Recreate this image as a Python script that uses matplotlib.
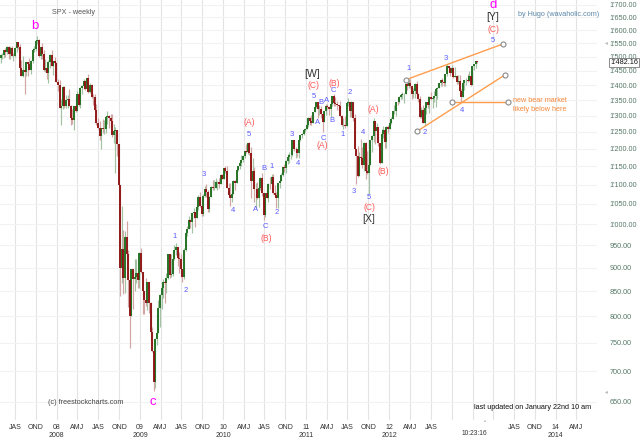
import numpy as np
import pandas as pd
import matplotlib
matplotlib.use("Agg")
import matplotlib.pyplot as plt
import matplotlib.dates as mdates
from matplotlib.ticker import FixedLocator, NullLocator

plt.rcParams['font.family'] = ['Liberation Sans', 'DejaVu Sans']

# ---------------- data: SPX weekly candles (week start Monday), Apr 2007 - Jan 2013 ----------------
last_week = "2013-01-21"
week_open = [
    1484,1494,1506,1506,1523,1516,1536,1508,1533,1503,1503,1530,1553,1534,1459,1433,1454,1446,1479,1474,1454,1484,1526,1527,1558,1562,1501,1535,1510,1454,1459,1441,1481,1505,1468,1484,1478,
    1412,1401,1325,1331,1395,1331,1350,1353,1331,1293,1288,1330,1315,1370,1333,1390,1398,1414,1388,1425,1376,1400,1361,1360,1318,1278,1263,1239,1261,1258,1260,1296,1298,1292,1283,1242,1252,1255,1213,1099,899,941,877,969,931,873,800,896,876,880,888,873,
    932,890,850,832,826,869,827,770,735,683,757,769,816,843,857,870,866,878,929,883,887,919,940,946,921,919,896,879,940,979,987,1010,1004,1026,1029,1016,1043,1068,1044,1025,1071,1088,1080,1036,1069,1093,1091,1091,1106,1106,1102,1126,
    1115,1145,1136,1092,1074,1066,1076,1109,1104,1139,1150,1160,1167,1178,1194,1192,1217,1187,1111,1136,1088,1089,1065,1092,1118,1077,1023,1078,1065,1103,1102,1122,1079,1072,1065,1105,1110,1126,1149,1146,1165,1176,1183,1183,1226,1199,1200,1189,1225,1240,1244,1257,
    1258,1272,1293,1283,1276,1311,1329,1343,1320,1321,1304,1279,1314,1332,1328,1320,1337,1364,1340,1338,1333,1331,1300,1271,1272,1268,1340,1344,1316,1345,1292,1199,1179,1124,1177,1174,1154,1216,1136,1131,1155,1225,1238,1285,1253,1264,1216,1159,1244,1255,1220,1265,
    1258,1278,1289,1315,1316,1345,1343,1361,1366,1370,1371,1404,1397,1408,1398,1370,1379,1403,1369,1353,1295,1318,1278,1326,1343,1335,1362,1355,1357,1363,1386,1391,1406,1418,1411,1407,1438,1466,1460,1441,1461,1429,1433,1412,1414,1380,1360,1409,1416,1418,1414,1430,1402,
    1466,1472,1486,
]
week_high = [
    1498,1510,1513,1523,1530,1540,1540,1538,1540,1515,1534,1556,1556,1546,1488,1503,1466,1482,1481,1497,1487,1530,1538,1560,1576,1564,1536,1552,1523,1492,1462,1488,1510,1523,1486,1499,1479,
    1422,1417,1354,1396,1396,1368,1368,1388,1335,1321,1330,1359,1380,1378,1395,1399,1422,1416,1426,1440,1406,1405,1370,1370,1336,1292,1285,1263,1291,1288,1298,1314,1302,1304,1304,1274,1265,1256,1213,1099,1044,985,984,1007,939,874,897,896,919,918,888,935,
    943,891,851,877,870,870,828,780,735,759,804,833,845,860,875,872,888,930,930,930,920,951,956,947,934,931,897,943,980,996,1019,1013,1027,1039,1029,1049,1074,1080,1065,1076,1097,1101,1086,1071,1097,1113,1112,1119,1110,1119,1130,1130,
    1146,1150,1150,1104,1104,1080,1112,1112,1139,1151,1169,1181,1182,1195,1214,1218,1220,1206,1174,1148,1104,1106,1092,1121,1131,1077,1078,1100,1104,1120,1130,1129,1100,1081,1105,1112,1131,1149,1158,1168,1185,1190,1196,1227,1226,1204,1200,1225,1240,1247,1259,1262,
    1277,1296,1296,1302,1311,1331,1344,1343,1333,1332,1304,1315,1337,1339,1330,1338,1364,1371,1359,1346,1334,1346,1303,1293,1298,1341,1356,1344,1347,1345,1307,1199,1208,1190,1230,1204,1221,1220,1195,1171,1225,1242,1293,1285,1277,1266,1216,1260,1267,1266,1268,1270,
    1285,1297,1316,1334,1345,1355,1363,1368,1378,1374,1405,1414,1420,1422,1398,1392,1406,1415,1373,1365,1328,1335,1330,1344,1364,1363,1378,1359,1381,1390,1395,1407,1419,1426,1414,1438,1475,1467,1463,1471,1462,1464,1436,1434,1434,1388,1410,1419,1423,1439,1448,1430,1468,
    1473,1486,1486,
]
week_low = [
    1474,1476,1491,1497,1500,1510,1490,1492,1502,1484,1500,1518,1529,1457,1432,1429,1370,1430,1432,1451,1439,1477,1517,1521,1547,1500,1490,1492,1448,1444,1420,1406,1460,1467,1435,1468,1411,
    1380,1324,1271,1322,1325,1325,1326,1330,1272,1274,1256,1312,1315,1332,1326,1370,1386,1384,1386,1373,1373,1356,1335,1315,1272,1260,1225,1200,1248,1245,1248,1274,1262,1262,1236,1217,1133,1180,1098,840,866,845,846,897,819,741,800,815,851,866,857,857,
    888,805,804,821,812,806,754,734,667,673,747,769,779,814,836,826,847,875,878,879,881,917,927,903,888,896,869,876,938,972,987,990,978,1016,992,1016,1035,1041,1020,1020,1067,1069,1030,1029,1069,1086,1085,1091,1086,1092,1102,1115,
    1115,1131,1091,1071,1045,1056,1076,1086,1104,1136,1142,1151,1163,1175,1189,1184,1182,1066,1111,1056,1040,1063,1043,1087,1071,1011,1018,1064,1056,1088,1102,1076,1069,1040,1040,1092,1110,1123,1135,1131,1158,1159,1171,1180,1194,1173,1176,1174,1222,1232,1241,1251,
    1258,1265,1271,1270,1276,1311,1324,1294,1302,1294,1249,1279,1303,1322,1303,1295,1331,1330,1332,1319,1311,1297,1268,1259,1263,1268,1331,1296,1295,1283,1199,1102,1121,1123,1170,1145,1137,1115,1130,1075,1155,1192,1221,1215,1226,1209,1158,1159,1231,1202,1202,1248,
    1258,1275,1289,1306,1300,1335,1340,1355,1355,1340,1370,1385,1391,1392,1354,1358,1358,1368,1343,1292,1292,1277,1267,1307,1325,1309,1352,1325,1345,1329,1354,1391,1397,1398,1397,1396,1430,1450,1431,1439,1425,1427,1403,1405,1373,1343,1360,1385,1399,1411,1414,1398,1402,
    1451,1461,1477,
]
week_close = [
    1494,1506,1506,1523,1516,1536,1508,1533,1503,1503,1530,1553,1534,1459,1433,1454,1446,1479,1474,1454,1484,1526,1527,1558,1562,1501,1535,1510,1454,1459,1441,1481,1505,1468,1484,1478,1412,
    1401,1325,1331,1395,1331,1350,1353,1331,1293,1288,1330,1315,1370,1333,1390,1398,1414,1388,1425,1376,1400,1361,1360,1318,1278,1263,1239,1261,1258,1260,1296,1298,1292,1283,1242,1252,1255,1213,1099,899,941,877,969,931,873,800,896,876,880,888,873,932,
    890,850,832,826,869,827,770,735,683,757,769,816,843,857,870,866,878,929,883,887,919,940,946,921,919,896,879,940,979,987,1010,1004,1026,1029,1016,1043,1068,1044,1025,1071,1088,1080,1036,1069,1093,1091,1091,1106,1106,1102,1126,1115,
    1145,1136,1092,1074,1066,1076,1109,1104,1139,1150,1160,1167,1178,1194,1192,1217,1187,1111,1136,1088,1089,1065,1092,1118,1077,1023,1078,1065,1103,1102,1122,1079,1072,1065,1105,1110,1126,1149,1146,1165,1176,1183,1183,1226,1199,1200,1189,1225,1240,1244,1257,1258,
    1272,1293,1283,1276,1311,1329,1343,1320,1321,1304,1279,1314,1332,1328,1320,1337,1364,1340,1338,1333,1331,1300,1271,1272,1268,1340,1344,1316,1345,1292,1199,1179,1124,1177,1174,1154,1216,1136,1131,1155,1225,1238,1285,1253,1264,1216,1159,1244,1255,1220,1265,1258,
    1278,1289,1315,1316,1345,1343,1361,1366,1370,1371,1404,1397,1408,1398,1370,1379,1403,1369,1353,1295,1318,1278,1326,1343,1335,1362,1355,1357,1363,1386,1391,1406,1418,1411,1407,1438,1466,1460,1441,1461,1429,1433,1412,1414,1380,1360,1409,1416,1418,1414,1430,1402,1466,
    1472,1486,1482.16,
]
last_price = 1482.16

# trendlines drawn on the chart (date, price)
trend_upper_dates = ["2012-03-12", "2013-05-14"]
trend_upper_prices = [1418, 1547]
trend_lower_dates = ["2012-05-02", "2013-05-22"]
trend_lower_prices = [1252, 1435]
trend_flat_dates = ["2012-10-02", "2013-06-05"]
trend_flat_prices = [1344, 1344]

y_ticks = [650, 700, 750, 800, 850, 900, 950, 1000, 1050, 1100, 1150, 1200, 1250,
           1300, 1350, 1400, 1450, 1500, 1550, 1600, 1650, 1700]
quarter_names = {4: "AMJ", 7: "JAS", 10: "OND"}
hidden_ticks = ["2012-10-01", "2013-01-01", "2013-04-01"]

n = len(week_close)
lens = (len(week_open), len(week_high), len(week_low), len(week_close))
assert len(set(lens)) == 1, f"length mismatch {lens}"

# ---------------- figure ----------------
W, H = 640, 440
fig = plt.figure(figsize=(6.4, 4.4), dpi=100)
ax = fig.add_axes([0, 20 / H, 597 / W, 420 / H])
ax.set_yscale('log')
ax.set_ylim(622.2, 1720.7)
ax.set_xlim(mdates.date2num(pd.Timestamp('2007-04-27')), mdates.date2num(pd.Timestamp('2014-07-01')))
for s in ax.spines.values():
    s.set_visible(False)

dates = pd.date_range(end=last_week, periods=n, freq='W-MON')
x = mdates.date2num(dates)
o = np.array(week_open, float)
h = np.array(week_high, float)
l = np.array(week_low, float)
c = np.array(week_close, float)
up = c >= o

ax.vlines(x[up], l[up], h[up], colors='#a3c2a3', lw=0.85, zorder=3)
ax.vlines(x[~up], l[~up], h[~up], colors='#d4a5a5', lw=0.85, zorder=3)
ax.vlines(x[up], o[up], c[up], colors='#1f6e1f', lw=1.35, zorder=4)
ax.vlines(x[~up], c[~up], o[~up], colors='#8e1212', lw=1.35, zorder=4)

# trendlines
for d_, p_ in [(trend_upper_dates, trend_upper_prices),
               (trend_lower_dates, trend_lower_prices),
               (trend_flat_dates, trend_flat_prices)]:
    ax.plot(pd.to_datetime(d_), p_, color='#ff9d4d', lw=1.0, zorder=5,
            marker='o', ms=3.6, mfc='white', mec='#8a8a8a', mew=0.8)

# y axis
ax.yaxis.tick_right()
ax.yaxis.set_major_locator(FixedLocator(y_ticks))
ax.yaxis.set_minor_locator(NullLocator())
ax.set_yticklabels([f"{v:,.2f}".replace(',', "'") for v in y_ticks])
ax.tick_params(axis='y', length=0, pad=9, labelsize=5.2, labelcolor='#557766')

# x axis (quarters)
qdates = pd.date_range('2007-07-01', '2014-04-01', freq='QS')
labels = []
for d in qdates:
    if d.strftime('%Y-%m-%d') in hidden_ticks:
        labels.append("")
    elif d.month == 1:
        labels.append(f"{d.year % 100:02d}\n{d.year}")
    else:
        labels.append(quarter_names[d.month])
ax.set_xticks(mdates.date2num(qdates))
ax.set_xticklabels(labels, linespacing=1.15)
ax.tick_params(axis='x', length=0, pad=3.2, labelsize=5.0, labelcolor='#333333')
ax.xaxis.set_minor_locator(NullLocator())

ax.grid(axis='x', color='#e3e3e3', lw=0.8)
ax.grid(axis='y', color='#f2f2f2', lw=0.8)
ax.set_axisbelow(True)

# ---------------- annotations (pixel placed) ----------------
def ptext(px, py, s, ha='center', va='center', **kw):
    fig.text(px / W, 1 - py / H, s, ha=ha, va=va, **kw)

blue = '#5a5aff'
red = '#ff5a5a'
gray = '#333333'
mag = '#ff00ff'

blue_labels = [("1", 175, 236), ("2", 186, 290), ("3", 204, 175), ("4", 233, 211),
               ("5", 249, 134), ("A", 256, 209), ("B", 264, 169), ("C", 265, 227),
               ("1", 272, 166), ("2", 277, 212), ("3", 292, 134), ("4", 298, 163),
               ("5", 314, 96), ("B", 321, 102), ("A", 327, 101), ("C", 333, 91),
               ("A", 318, 122), ("B", 332, 121), ("C", 323, 138), ("1", 343, 134),
               ("2", 350, 92), ("3", 354, 191), ("4", 363, 133), ("5", 369, 197),
               ("1", 409, 69), ("2", 425, 133), ("3", 446, 58), ("4", 462, 111),
               ("5", 493, 41)]
for s, px, py in blue_labels:
    ptext(px, py, s, color=blue, fontsize=5.5)

red_labels = [("(A)", 249, 122), ("(B)", 266, 238), ("(C)", 313, 86), ("(A)", 322, 146),
              ("(B)", 334, 83), ("(A)", 373, 109), ("(C)", 369, 207), ("(B)", 383, 172),
              ("(C)", 493, 29)]
for s, px, py in red_labels:
    ptext(px, py, s, color=red, fontsize=6.2)

for s, px, py in [("[W]", 312, 74), ("[X]", 369, 219), ("[Y]", 493, 17)]:
    ptext(px, py, s, color=gray, fontsize=7.6)

ptext(35, 26, "b", color=mag, fontsize=9.5)
ptext(153, 402, "c", color=mag, fontsize=9.5)
ptext(493, 4.5, "d", color=mag, fontsize=9.5)

ptext(52, 13, "SPX - weekly", ha='left', color='#555555', fontsize=5.2)
ptext(518, 14, "by Hugo (wavaholic.com)", ha='left', color='#5b87a8', fontsize=5.2)
ptext(48, 402, "(c) freestockcharts.com", ha='left', color='#444444', fontsize=5.2)
ptext(474, 407, "last updated on January 22nd 10 am", ha='left', color='#111111', fontsize=5.2)
ptext(513, 100, "new bear market", ha='left', color='#f5883a', fontsize=5.2)
ptext(513, 109, "likely below here", ha='left', color='#f5883a', fontsize=5.2)
ptext(474, 433, "10:23:16", color='#333333', fontsize=4.8)
ptext(484, 421, "\u25B2", color='#c0c0c0', fontsize=3)
ptext(606, 43, "\u25C2", color='#b0b0b0', fontsize=4)
ptext(606, 392, "\u25C2", color='#b0b0b0', fontsize=4)

# current price box
ptext(610, 62.5, f"{last_price:,.2f}".replace(',', "'"), ha='left', color='#111111', fontsize=5.2,
      bbox=dict(boxstyle='square,pad=0.15', fc='white', ec='#777777', lw=0.6))

fig.savefig('out.png', dpi=100)
